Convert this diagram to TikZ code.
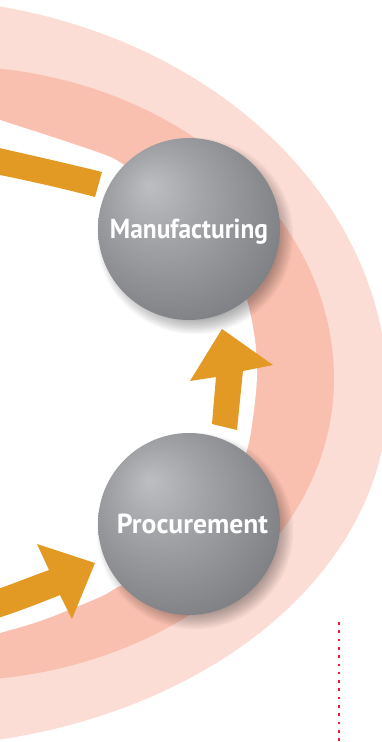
\documentclass[tikz,border=0pt]{standalone}
\usepackage{fontspec}
\usepackage{graphicx}
\newfontfamily\labfont{PT Sans}
\definecolor{ringlight}{HTML}{FCDDD5}
\definecolor{ringdark}{HTML}{FAC0AF}
\definecolor{arroworange}{HTML}{E39A25}
\definecolor{ballhi}{HTML}{BDBEC2}
\definecolor{ballmid}{HTML}{A3A4A8}
\definecolor{balldark}{HTML}{7E7F83}
\definecolor{dotred}{HTML}{EC1B3E}
\pgfdeclareradialshading{sphere}{\pgfpoint{-11bp}{12bp}}{color(0bp)=(ballhi); color(12bp)=(ballmid); color(32bp)=(balldark); color(50bp)=(balldark)}
\tikzset{
  ballnode/.style={circle, minimum size=182pt, inner sep=0pt, shading=sphere, shade},
  balllabel/.style={anchor=base, text=white, inner sep=0pt, font=\labfont\bfseries\fontsize{27.5}{30}\selectfont},
  fatarrow/.style={fill=arroworange},
  shadowring/.style={fill=black, opacity=0.028},
  reddots/.style={draw=dotred, line width=2.6pt, dash pattern=on 2.6pt off 5.7pt}
}
\begin{document}
\begin{tikzpicture}[x=1pt,y=-1pt]
\useasboundingbox (0,0) rectangle (382,742);
\clip (0,0) rectangle (382,742);
% rings
\fill[ringlight] plot[domain=90:0, samples=90] ({-100+488*cos(\x)},{395-397*sin(\x)})
  -- plot[domain=0:90, samples=90] ({-100+488*cos(\x)},{395+352*sin(\x)}) -- cycle;
\fill[ringdark] plot[domain=90:0, samples=90] ({-50+384*cos(\x)},{379-313*sin(\x)})
  -- plot[domain=0:90, samples=90] ({-50+384*cos(\x)},{379+302*sin(\x)}) -- cycle;
\fill[white] plot[smooth] coordinates {(-30,111) (0,120) (100,153) (127,167) (190,210) (230,255) (247,300) (255,340) (257,375) (254,410) (247,450) (225,510) (170,565) (120,586) (100,597) (43,620) (0,633) (-30,642)} -- (-60,650) -- (-60,100) -- cycle;
% orange arrows
\fill[fatarrow] (-5,147) .. controls (30,155) and (70,164) .. (102,172) -- (95,197) .. controls (65,189) and (30,181) .. (-5,174) -- cycle;
\fill[fatarrow] (212,424) -- (214,400) -- (216,377) -- (190,381) -- (222,329) -- (273,365) -- (243,371) -- (240,400) -- (237,430) -- cycle;
\fill[fatarrow] (-5,590) .. controls (15,583) and (35,575) .. (49,570) -- (37,544) -- (95,563) -- (72,619) -- (60,595) .. controls (40,603) and (20,611) .. (-5,619) -- cycle;
% ball centres
\coordinate (mc) at (189,229);
\coordinate (pc) at (189,524);
% shadows
\foreach \r in {0,...,11} {
  \fill[shadowring] ([shift={(6,7)}]mc) circle ({84pt+\r*1.3pt});
  \fill[shadowring] ([shift={(6,7)}]pc) circle ({84pt+\r*1.3pt});
}
% balls
\node[ballnode] (manuf) at (mc) {};
\node[ballnode] (procure) at (pc) {};
\node[balllabel] (manuflabel) at (189,238) {\resizebox{158pt}{\height}{Manufacturing}};
\node[balllabel] (procurelabel) at (192.5,533) {\resizebox{151pt}{\height}{Procurement}};
% dotted line
\coordinate (dottop) at (339,622);
\coordinate (dotbot) at (339,745);
\draw[reddots] (dottop) -- (dotbot);
\end{tikzpicture}
\end{document}
